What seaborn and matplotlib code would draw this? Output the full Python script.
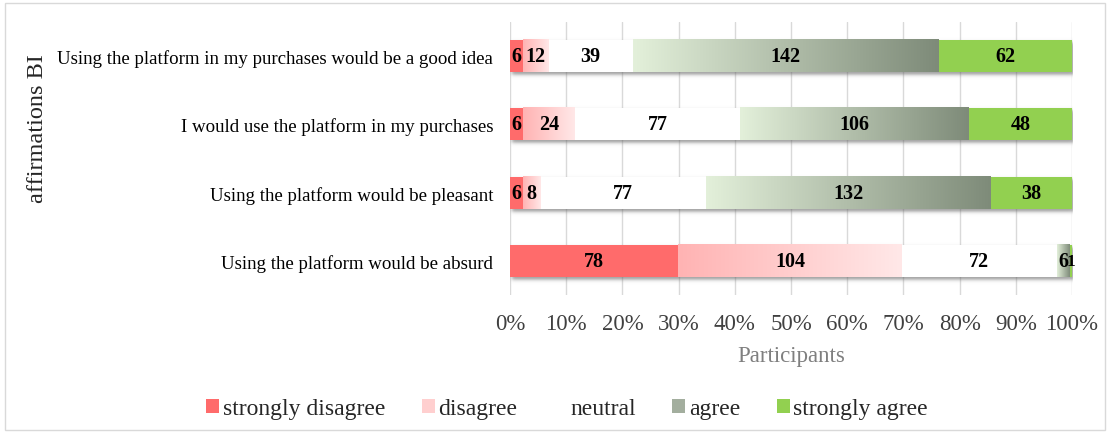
import numpy as np
import pandas as pd
import matplotlib
matplotlib.use("Agg")
import matplotlib.pyplot as plt
from matplotlib.colors import LinearSegmentedColormap
from matplotlib.patches import Patch, Rectangle
import seaborn as sns

# Survey responses (counts of participants) per statement
statements = [
    "Using the platform in my purchases would be a good idea",
    "I would use the platform in my purchases",
    "Using the platform would be pleasant",
    "Using the platform would be absurd",
]
levels = ["strongly disagree", "disagree", "neutral", "agree", "strongly agree"]
strongly_disagree = [6, 6, 6, 78]
disagree = [12, 24, 8, 104]
neutral = [39, 77, 77, 72]
agree = [142, 106, 132, 6]
strongly_agree = [62, 48, 38, 1]
xtick_values = list(range(0, 101, 10))
xtick_labels = [f"{v}%" for v in xtick_values]

counts = np.array([strongly_disagree, disagree, neutral, agree, strongly_agree], dtype=float)
pct = counts / counts.sum(axis=0) * 100
cum_end = np.cumsum(pct, axis=0)
cum_start = cum_end - pct

# Fill styles: solid colours or left->right gradients
solid = {
    "strongly disagree": "#FF6B6B",
    "neutral": "#FFFFFF",
    "strongly agree": "#92D050",
}
gradients = {
    "disagree": ("#FFB3B3", "#FFE8E8"),
    "agree": ("#E3F0DA", "#7E8B79"),
}
legend_colors = {
    "strongly disagree": "#FF6B6B",
    "disagree": "#FFCFCF",
    "neutral": "#FFFFFF",
    "agree": "#A3AE9E",
    "strongly agree": "#92D050",
}

sns.set_theme(style="white")
plt.rcParams["font.family"] = ["Liberation Serif", "DejaVu Serif"]

W, H = 1110, 435
fig = plt.figure(figsize=(W / 100, H / 100), dpi=100)
ax = fig.add_axes([510 / W, 1 - 296 / H, (1072 - 510) / W, (296 - 23) / H])

bar_h = 0.47
n = len(statements)

# Stacked bars: draw cumulative totals from the widest down so each level sits on top
for k in range(len(levels) - 1, -1, -1):
    df = pd.DataFrame({"statement": statements, "cum": cum_end[k]})
    lvl = levels[k]
    color = solid.get(lvl, gradients.get(lvl, ("#FFFFFF",))[0])
    sns.barplot(data=df, x="cum", y="statement", orient="h", color=color,
                width=bar_h, saturation=1, ax=ax, zorder=2)
for p in ax.patches:
    p.set_edgecolor("none")
    p.set_linewidth(0)

# Soft drop shadow under each bar
px_x = 100 / (1072 - 510)          # data units per pixel (x)
px_y = n / (296 - 23)              # data units per pixel (y)
for i in range(n):
    x0, x1 = 0, cum_end[-1, i]
    y0, y1 = i - bar_h / 2, i + bar_h / 2
    dx, dy, s = 1.5 * px_x, 3.0 * px_y, 2.0
    ex0, ex1 = x0 + dx - 6 * px_x, x1 + dx + 6 * px_x
    ey0, ey1 = y0 + dy - 6 * px_y, y1 + dy + 6 * px_y
    xs = np.linspace(ex0, ex1, 600)
    ys = np.linspace(ey0, ey1, 80)
    fx = 0.5 * (np.tanh((xs - (x0 + dx)) / (s * px_x)) - np.tanh((xs - (x1 + dx)) / (s * px_x)))
    fy = 0.5 * (np.tanh((ys - (y0 + dy)) / (s * px_y)) - np.tanh((ys - (y1 + dy)) / (s * px_y)))
    alpha = np.outer(fy, fx) * 0.6
    rgba = np.zeros((len(ys), len(xs), 4))
    rgba[..., :3] = 0.38
    rgba[..., 3] = alpha
    ax.imshow(rgba, aspect="auto", interpolation="bilinear",
              extent=[ex0, ex1, ey1, ey0], zorder=1.5)

# Gradient segments
ramp = np.linspace(0, 1, 256).reshape(1, -1)
for k, lvl in enumerate(levels):
    if lvl not in gradients:
        continue
    cmap = LinearSegmentedColormap.from_list(lvl, gradients[lvl])
    for i in range(n):
        s, e = cum_start[k, i], cum_end[k, i]
        ax.imshow(ramp, cmap=cmap, aspect="auto", interpolation="bilinear",
                  extent=[s, e, i + bar_h / 2, i - bar_h / 2], zorder=3)

# Count labels centred in each segment (slightly smaller in very thin segments)
for k in range(len(levels)):
    for i in range(n):
        s, e = cum_start[k, i], cum_end[k, i]
        fs = 14.5 if (e - s) > 1.5 else 12.5
        ax.text((s + e) / 2, i, f"{int(counts[k, i])}", ha="center", va="center",
                fontsize=fs, fontweight="bold", color="black", zorder=5)

ax.set_xlim(0, 100)
ax.set_ylim(n - 0.5, -0.5)
ax.set_xticks(xtick_values)
ax.set_xticklabels(xtick_labels, fontsize=16.5, color="#404040")
ax.tick_params(axis="y", labelsize=13.6, labelcolor="black", length=0, pad=12)
ax.tick_params(axis="x", length=0, pad=13)
ax.set_axisbelow(True)
ax.xaxis.grid(True, color="#D9D9D9", linewidth=1, zorder=0)
ax.yaxis.grid(False)
for sp in ax.spines.values():
    sp.set_visible(False)
ax.set_ylabel("")
ax.set_xlabel("Participants", fontsize=16.5, color="#7F7F7F", labelpad=8)

fig.text(38 / W, 1 - 129 / H, "affirmations BI", rotation=90, fontsize=17.5,
         ha="center", va="center", color="#262626")

handles = [Patch(facecolor=legend_colors[l], edgecolor="none") for l in levels]
fig.legend(handles, levels, loc="center", bbox_to_anchor=(567 / W, 1 - 410 / H),
           ncol=5, frameon=False, fontsize=17, handlelength=0.55, handleheight=0.55,
           handletextpad=0.15, columnspacing=1.55, labelcolor="#262626")

# Light frame around the chart area
fig.add_artist(Rectangle((5 / W, 4 / H), 1100 / W, 427 / H, transform=fig.transFigure,
                         fill=False, edgecolor="#D9D9D9", linewidth=1))

fig.savefig("out.png", dpi=100)
